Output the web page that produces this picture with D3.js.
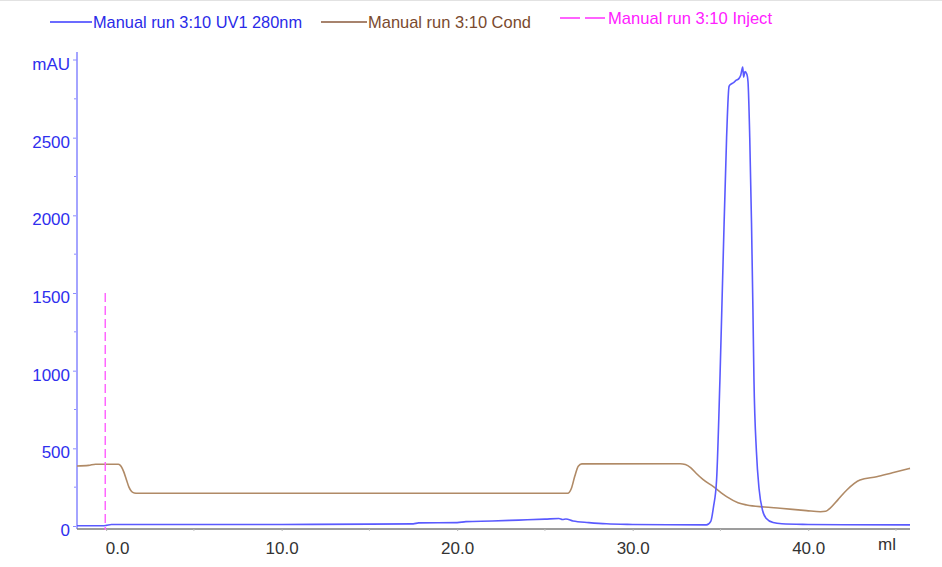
<!DOCTYPE html>
<html>
<head>
<meta charset="utf-8">
<script src="https://cdn.jsdelivr.net/npm/d3@7/dist/d3.min.js"></script>
<style>
  html, body { margin: 0; padding: 0; background: #fff; }
  svg { display: block; font-family: "Liberation Sans", Arial, sans-serif; }
</style>
</head>
<body>
<svg id="chart" width="942" height="567"></svg>
<script>
// ---- Data ----
const seriesNames = ["Manual run 3:10 UV1 280nm", "Manual run 3:10 Cond", "Manual run 3:10 Inject"];

// UV1 280nm: [ml, mAU]
const uvVolume = [-1.66, -0.2, 0.0, 0.3, 5, 10, 15, 17.5, 17.8, 20, 20.5, 22, 23, 24, 25, 25.8, 26.0, 26.2, 26.6, 27.5, 28.5, 30, 32, 34.2,
  34.45, 34.6, 34.78, 34.97, 35.15, 35.35, 35.49, 35.6, 35.75, 35.9, 36.05, 36.15, 36.27, 36.32, 36.4, 36.5, 36.57, 36.67, 36.77, 36.85, 36.91, 37.05, 37.2, 37.4, 37.6, 38.0, 38.5, 40, 42, 45.8];
const uvValues = [2, 2, 4, 10, 10, 10, 12, 14, 20, 22, 28, 32, 36, 40, 44, 48, 42, 45, 32, 22, 14, 10, 8, 7,
  30, 120, 296, 940, 1700, 2500, 2830, 2845, 2855, 2870, 2880, 2900, 2955, 2890, 2925, 2910, 2860, 2500, 1950, 1400, 940, 480, 240, 100, 50, 22, 14, 10, 8, 7];

// Conductivity (drawn on its own hidden scale, expressed in the left-axis units)
const condVolume = [-1.66, -1.0, -0.6, 0.7, 0.85, 1.0, 1.15, 1.3, 1.45, 1.6, 1.8, 26.3, 26.5, 26.7, 26.9, 27.1, 32.7, 33.0, 33.3, 33.6, 34.0, 34.6, 35.35, 36.0, 36.5, 37.5, 38.4, 39.9, 40.7, 41.0, 41.24, 41.7, 42.2, 42.95, 43.9, 44.8, 45.8];
const condValues = [386, 390, 398, 398, 385, 350, 300, 250, 222, 213, 211, 211, 240, 320, 385, 400, 401, 396, 376, 341, 300, 253, 189, 150, 135, 122, 114, 99, 92, 95, 114, 170, 232, 296, 317, 343, 371];

// Injection mark
const injectVolume = -0.05;
const injectHeight = 1500;

// Axis ticks
const xTicks = [0, 10, 20, 30, 40];
const xMinorTicks = [5, 15, 25, 35, 45];
const xTickLabels = ["0.0", "10.0", "20.0", "30.0", "40.0"];
const yTicks = [0, 500, 1000, 1500, 2000, 2500];
const yMinorTicks = [250, 750, 1250, 1750, 2250, 2750];
const yTickLabels = ["0", "500", "1000", "1500", "2000", "2500"];
const yUnit = "mAU", xUnit = "ml";

// ---- Layout ----
const svg = d3.select("#chart");
const x = d3.scaleLinear().domain([-1.66, 45.8]).range([77, 910]);
const y = d3.scaleLinear().domain([0, 3000]).range([526, 60]);
const yCond = d3.scaleLinear().domain([0, 3000]).range([526, 60]);
const axisY = 529;

// top border
svg.append("line").attr("x1", 0).attr("x2", 942).attr("y1", 0.5).attr("y2", 0.5)
  .attr("stroke", "#e2e2e2").attr("stroke-width", 1);

// ---- Legend ----
const legend = svg.append("g");
legend.append("line").attr("x1", 50).attr("x2", 92).attr("y1", 22).attr("y2", 22)
  .attr("stroke", "#3a3aff").attr("stroke-width", 1.5);
legend.append("text").attr("x", 93).attr("y", 28).text(seriesNames[0])
  .attr("fill", "#2a2ae8").attr("font-size", 17)
  .attr("textLength", 209).attr("lengthAdjust", "spacingAndGlyphs");
legend.append("line").attr("x1", 321).attr("x2", 367).attr("y1", 22).attr("y2", 22)
  .attr("stroke", "#8a5a3c").attr("stroke-width", 1.5);
legend.append("text").attr("x", 368).attr("y", 28).text(seriesNames[1])
  .attr("fill", "#7a4a2e").attr("font-size", 17)
  .attr("textLength", 163).attr("lengthAdjust", "spacingAndGlyphs");
legend.append("line").attr("x1", 560).attr("x2", 605).attr("y1", 18).attr("y2", 18)
  .attr("stroke", "#ff30ff").attr("stroke-width", 1.5).attr("stroke-dasharray", "20,5");
legend.append("text").attr("x", 608).attr("y", 24).text(seriesNames[2])
  .attr("fill", "#ff20ff").attr("font-size", 17)
  .attr("textLength", 164).attr("lengthAdjust", "spacingAndGlyphs");

// ---- Y axis ----
const yAxis = d3.axisLeft(y).tickValues(yTicks).tickSize(4).tickPadding(6)
  .tickFormat((d, i) => yTickLabels[i]);
const gy = svg.append("g").attr("transform", "translate(77,0)").call(yAxis);
gy.select(".domain").remove();
gy.selectAll(".tick line").attr("stroke", "#8c8cff");
gy.selectAll(".tick text").attr("fill", "#2f2fee").attr("font-size", 17)
  .attr("font-family", "Liberation Sans, Arial, sans-serif").attr("dy", "0.55em").attr("x", -7);
svg.append("g").selectAll("line").data(yMinorTicks).join("line")
  .attr("x1", 74).attr("x2", 77).attr("y1", d => y(d)).attr("y2", d => y(d))
  .attr("stroke", "#8c8cff");
svg.append("line").attr("x1", 77).attr("x2", 77).attr("y1", 52).attr("y2", axisY)
  .attr("stroke", "#a4a4ff").attr("stroke-width", 2);
svg.append("line").attr("x1", 73).attr("x2", 77).attr("y1", y(3000)).attr("y2", y(3000))
  .attr("stroke", "#8c8cff");
svg.append("text").attr("x", 70).attr("y", 70).attr("text-anchor", "end")
  .attr("fill", "#2f2fee").attr("font-size", 17).text(yUnit);

// ---- X axis ----
svg.append("line").attr("x1", 77).attr("x2", 910).attr("y1", axisY).attr("y2", axisY)
  .attr("stroke", "#7c7c7c").attr("stroke-width", 1.5);
const xAxis = d3.axisBottom(x).tickValues(xTicks).tickSize(2).tickPadding(8)
  .tickFormat((d, i) => xTickLabels[i]);
const gx = svg.append("g").attr("transform", `translate(0,${axisY})`).call(xAxis);
gx.select(".domain").remove();
gx.selectAll(".tick line").attr("stroke", "#b0b0b0");
gx.selectAll(".tick text").attr("fill", "#333").attr("font-size", 17)
  .attr("font-family", "Liberation Sans, Arial, sans-serif").attr("dy", "0.9em")
  .attr("dx", d => d === 0 ? 11 : 0);
svg.append("g").selectAll("line").data(xMinorTicks).join("line")
  .attr("x1", d => x(d)).attr("x2", d => x(d)).attr("y1", axisY).attr("y2", axisY + 2)
  .attr("stroke", "#c0c0c0");
svg.append("text").attr("x", 887).attr("y", 550).attr("text-anchor", "middle")
  .attr("fill", "#333").attr("font-size", 17).text(xUnit);

// ---- Series ----
const uvData = uvVolume.map((v, i) => [v, uvValues[i]]);
const condData = condVolume.map((v, i) => [v, condValues[i]]);

svg.append("path").datum(condData)
  .attr("d", d3.line().x(d => x(d[0])).y(d => yCond(d[1])).curve(d3.curveMonotoneX))
  .attr("fill", "none").attr("stroke", "#b08a66").attr("stroke-width", 1.6);

svg.append("path").datum(uvData)
  .attr("d", d3.line().x(d => x(d[0])).y(d => y(d[1])).curve(d3.curveMonotoneX))
  .attr("fill", "none").attr("stroke", "#5a5aff").attr("stroke-width", 1.6);

svg.append("line").attr("x1", x(injectVolume)).attr("x2", x(injectVolume))
  .attr("y1", y(injectHeight)).attr("y2", axisY + 1)
  .attr("stroke", "#ff66ff").attr("stroke-width", 1.5).attr("stroke-dasharray", "9,4");
</script>
</body>
</html>
